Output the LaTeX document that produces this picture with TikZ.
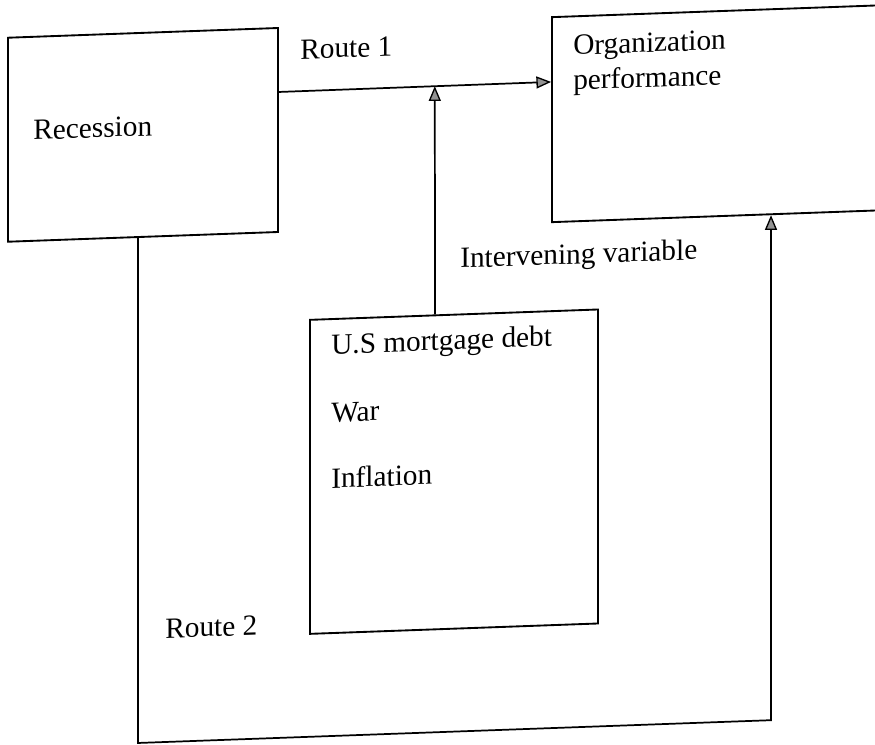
\documentclass[tikz,border=0pt]{standalone}
\usepackage{fontspec}
\setmainfont{Liberation Serif}
\usetikzlibrary{arrows.meta,calc}
\tikzset{
  box/.style={draw, line width=1.4pt, inner sep=0pt, rectangle},
  lbl/.style={anchor=base west, inner sep=0pt, font=\fontsize{22}{26}\selectfont},
  conn/.style={line width=1.3pt},
  arr/.style={conn, -{Triangle[length=11pt,width=9pt,fill=gray!85,line width=1pt]}},
}
\begin{document}
\begin{tikzpicture}[x=0.75pt,y=-0.75pt]
\useasboundingbox (0,0) rectangle (875,744);
\clip (0,0) rectangle (875,744);
\begin{scope}[yslant=0.036, transform shape]
  % boxes
  \node[box, minimum width=202.5pt, minimum height=153pt] (rec) at (143,140) {};
  \node[box, minimum width=261pt, minimum height=153.75pt] (org) at (726,139.5) {};
  \node[box, minimum width=216pt, minimum height=235.5pt] (us) at (454,488) {};
  % texts
  \node[lbl] (trec) at (33,141) {Recession};
  \node[lbl] (torg1) at (573,75.5) {Organization};
  \node[lbl] (torg2) at (573,110.5) {performance};
  \node[lbl] (tr1) at (300,70) {Route 1};
  \node[lbl] (tiv) at (460,284.5) {Intervening variable};
  \node[lbl] (tus1) at (331,366) {U.S mortgage debt};
  \node[lbl] (tus2) at (331,434) {War};
  \node[lbl] (tus3) at (331,500) {Inflation};
  \node[lbl] (tr2) at (165,644) {Route 2};
  % connectors
  \coordinate (r1s) at ([yshift=28.5pt]rec.east);
  \coordinate (r1e) at ([yshift=28.3pt]org.west);
  \coordinate (ivs) at ([xshift=-14.25pt]us.north);
  \draw[arr] (r1s) -- (r1e);
  \draw[arr] (ivs) -- ($(r1s)!(ivs)!(r1e)$);
  \draw[arr] ([xshift=-3.75pt]rec.south) -- ++(0,505) -- ++(633,0)
    -- ([xshift=33.75pt]org.south);
\end{scope}
\end{tikzpicture}
\end{document}
